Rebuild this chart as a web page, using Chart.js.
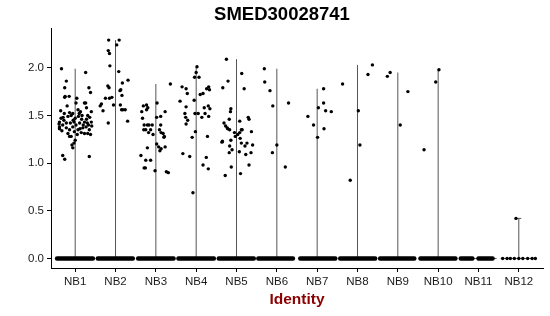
<!DOCTYPE html>
<html>
<head>
<meta charset="utf-8">
<script src="https://cdn.jsdelivr.net/npm/chart.js@4/dist/chart.umd.min.js"></script>
<style>
  html, body { margin: 0; padding: 0; background: #fff; }
  #wrap { width: 550px; height: 316px; }
</style>
</head>
<body>
<div id="wrap"><canvas id="vln"></canvas></div>
<script>
const categories = ["NB1", "NB2", "NB3", "NB4", "NB5", "NB6", "NB7", "NB8", "NB9", "NB10", "NB11", "NB12"];
const yTicks = [0, 0.5, 1, 1.5, 2];
// max expression per identity (top of each violin)
const violinTop = [1.99, 2.29, 1.83, 2.01, 2.09, 1.99, 1.78, 2.03, 1.95, 1.98, 0, 0.42];
// cells at zero: [from, to] jitter ranges per identity
const zeroBands = [
  [[-0.45, 0.44]], [[-0.44, 0.43]], [[-0.44, 0.44]], [[-0.44, 0.44]], [[-0.44, 0.43]],
  [[-0.46, 0.40]], [[-0.42, 0.45]], [[-0.43, 0.44]], [[-0.44, 0.41]], [[-0.44, 0.43]],
  [[-0.44, -0.15], [0.0, 0.35]], []
];
const nb12Zeros = [-0.40, -0.29, -0.21, -0.11, 0.0, 0.10, 0.22, 0.33, 0.41];

// expressing cells: [jitter, value]
const nb1 = [[-0.25,1.70],[-0.15,1.70],[0.38,1.74],[-0.20,1.60],[0.02,1.63],[0.23,1.63],[0.28,1.58],
  [-0.27,1.52],[-0.14,1.53],[-0.06,1.52],[0.07,1.56],[0.13,1.54],[0.31,1.50],[-0.39,1.43],[-0.35,1.47],
  [-0.28,1.45],[-0.18,1.49],[-0.12,1.42],[-0.03,1.43],[0.00,1.47],[0.08,1.49],[0.16,1.46],[0.23,1.43],
  [0.30,1.42],[0.36,1.48],[0.40,1.43],[-0.39,1.38],[-0.31,1.40],[-0.22,1.37],[-0.14,1.35],[-0.06,1.38],
  [0.02,1.40],[0.11,1.42],[0.19,1.37],[0.27,1.38],[0.35,1.35],[0.41,1.39],[-0.18,1.31],[-0.02,1.33],
  [0.07,1.35],[0.15,1.32],[0.23,1.31],[0.31,1.31],[-0.10,1.28],[0.00,1.24],[-0.08,1.19],[-0.03,1.21],
  [-0.14,1.28],[-0.34,1.99],[-0.22,1.86],[-0.26,1.79],[-0.26,1.69],[0.26,1.95],[0.34,1.79],[-0.31,1.08],
  [-0.26,1.04],[0.35,1.07],[-0.06,1.16],[0.38,1.30],[0.40,1.54],[-0.36,1.55],[-0.40,1.41],[-0.39,1.36],
  [0.26,1.63],[0.04,1.68],[-0.33,1.34],[-0.05,1.45],[0.12,1.36],[0.20,1.40],[0.05,1.30],[-0.22,1.42],
  [0.28,1.46],[0.10,1.52],[-0.10,1.50],[0.17,1.50],[-0.30,1.48],[0.33,1.40]];
const nb2 = [[-0.17,2.29],[0.09,2.29],[0.03,2.24],[-0.18,2.18],[-0.15,2.15],[-0.14,2.02],[0.08,1.96],
  [0.31,1.87],[0.17,1.84],[-0.19,1.81],[-0.16,1.79],[0.13,1.77],[0.11,1.76],[0.16,1.71],[-0.09,1.69],
  [-0.15,1.68],[-0.25,1.68],[-0.35,1.62],[-0.38,1.60],[-0.05,1.61],[0.12,1.61],[-0.31,1.55],[0.15,1.56],
  [0.24,1.56],[0.18,1.56],[0.30,1.44],[-0.18,1.42]];
const nb3 = [[0.36,1.83],[-0.23,1.61],[-0.31,1.60],[-0.20,1.58],[-0.35,1.54],[-0.23,1.56],[0.03,1.63],
  [0.23,1.54],[0.12,1.49],[0.02,1.48],[-0.33,1.47],[-0.29,1.40],[-0.21,1.40],[-0.17,1.40],[-0.09,1.40],
  [-0.30,1.35],[-0.25,1.35],[-0.13,1.35],[-0.18,1.32],[0.12,1.40],[0.09,1.35],[0.18,1.31],[0.20,1.27],
  [0.13,1.32],[0.21,1.28],[-0.07,1.30],[0.02,1.20],[0.07,1.17],[-0.21,1.16],[0.13,1.15],[0.10,1.13],
  [0.23,1.17],[-0.37,1.08],[-0.25,1.03],[-0.26,0.95],[-0.29,0.95],[-0.13,1.03],[-0.02,0.92],[0.26,0.91],
  [0.31,0.90]];
const nb4 = [[0.02,2.01],[0.00,1.95],[0.07,1.90],[-0.04,1.90],[-0.35,1.80],[-0.25,1.78],[0.31,1.80],
  [0.26,1.78],[0.33,1.77],[0.17,1.73],[0.10,1.72],[-0.22,1.73],[-0.40,1.65],[-0.05,1.66],[0.30,1.60],
  [0.34,1.57],[0.20,1.58],[-0.25,1.59],[-0.28,1.52],[-0.26,1.48],[-0.21,1.45],[-0.03,1.52],[0.05,1.52],
  [0.14,1.48],[0.22,1.52],[0.31,1.49],[-0.02,1.33],[-0.10,1.27],[0.28,1.28],[-0.33,1.10],[-0.16,1.07],
  [0.25,1.06],[0.17,0.98],[0.30,0.94],[-0.08,0.69],[-0.25,1.41]];
const nb5 = [[-0.25,2.09],[-0.21,1.86],[-0.34,1.79],[0.13,1.94],[0.19,1.78],[-0.14,1.57],[-0.15,1.54],
  [-0.18,1.46],[-0.31,1.42],[-0.27,1.39],[-0.23,1.37],[-0.22,1.36],[-0.17,1.35],[0.08,1.44],[0.29,1.48],
  [0.31,1.46],[0.12,1.35],[0.08,1.32],[-0.05,1.32],[0.03,1.30],[-0.36,1.22],[-0.35,1.23],[-0.14,1.24],
  [-0.03,1.28],[0.09,1.26],[0.12,1.21],[0.21,1.18],[0.26,1.21],[0.40,1.19],[-0.17,1.18],[-0.11,1.14],
  [-0.18,1.11],[0.07,1.12],[0.23,1.09],[-0.13,0.96],[0.31,0.98],[0.10,0.89],[-0.28,0.87],[0.36,1.11],
  [0.37,1.33],[0.14,1.35]];
const nb6 = [[-0.31,1.99],[-0.30,1.85],[-0.17,1.76],[-0.10,1.60],[0.00,1.19],[-0.11,1.11],[0.29,1.63],[0.21,0.96]];
const nb7 = [[-0.23,1.49],[-0.09,1.40],[0.01,1.27],[0.03,1.58],[0.16,1.78],[0.16,1.63],[0.21,1.55],[0.35,1.54],[0.17,1.36]];
const nb8 = [[-0.37,1.83],[-0.18,0.82],[0.02,1.55],[0.06,1.19],[0.26,1.93],[0.37,2.03]];
const nb9 = [[-0.26,1.91],[-0.19,1.95],[0.06,1.40],[0.25,1.75]];
const nb10 = [[-0.35,1.14],[-0.06,1.85],[0.02,1.98]];
const nb11 = [];
const nb12 = [[-0.07,0.42]];
const groups = [nb1, nb2, nb3, nb4, nb5, nb6, nb7, nb8, nb9, nb10, nb11, nb12];

const cellPoints = [];
groups.forEach((g, i) => g.forEach(p => cellPoints.push({ x: i + 1 + p[0], y: p[1] })));
nb12Zeros.forEach(j => cellPoints.push({ x: 12 + j, y: 0 }));

const datasets = [{
  type: "scatter",
  data: cellPoints,
  pointRadius: 1.7,
  pointBackgroundColor: "#000",
  pointBorderWidth: 0,
  order: 0,
}];

zeroBands.forEach((bands, i) => {
  bands.forEach(b => {
    datasets.push({
      type: "line",
      data: [{ x: i + 1 + b[0], y: 0 }, { x: i + 1 + b[1], y: 0 }],
      borderColor: "#000",
      borderWidth: 4.4,
      borderCapStyle: "round",
      pointRadius: 0,
      order: 1,
    });
  });
});

violinTop.forEach((top, i) => {
  const c = i + 1;
  datasets.push({
    type: "line",
    data: [{ x: c - 0.45, y: 0 }, { x: c + 0.45, y: 0 }],
    borderColor: "#555",
    borderWidth: 1,
    pointRadius: 0,
    order: 2,
  });
  if (top > 0) {
    datasets.push({
      type: "line",
      data: [{ x: c, y: 0 }, { x: c, y: top }],
      borderColor: "#555",
      borderWidth: 1,
      pointRadius: 0,
      order: 2,
    });
  }
});
// tiny cap on the NB12 violin
datasets.push({
  type: "line",
  data: [{ x: 12 - 0.08, y: violinTop[11] }, { x: 12.06, y: violinTop[11] }],
  borderColor: "#555",
  borderWidth: 1,
  pointRadius: 0,
  order: 2,
});

const config = {
  type: "scatter",
  data: { datasets: datasets },
  options: {
    responsive: true,
    maintainAspectRatio: false,
    animation: false,
    layout: { padding: { left: 21, right: 7, top: 0, bottom: 0 } },
    plugins: {
      legend: { display: false },
      tooltip: { enabled: false },
      title: {
        display: true,
        text: "SMED30028741",
        color: "#000",
        font: { family: "Liberation Sans", size: 18.5, weight: "bold" },
        padding: { top: 4, bottom: 2 },
      },
    },
    scales: {
      x: {
        type: "linear",
        min: 0.4,
        max: 12.6,
        afterBuildTicks: (scale) => { scale.ticks = categories.map((c, i) => ({ value: i + 1 })); },
        afterFit: (scale) => { scale.height = 48; },
        ticks: {
          autoSkip: false,
          maxRotation: 0,
          padding: 3,
          color: "#1a1a1a",
          font: { family: "Liberation Sans", size: 11.5 },
          callback: (v) => categories[Math.round(v) - 1],
        },
        grid: { drawOnChartArea: false, drawTicks: true, tickLength: 4, color: "#000" },
        border: { display: true, color: "#000", width: 1 },
        title: {
          display: true,
          text: "Identity",
          color: "#8b0000",
          font: { family: "Liberation Sans", size: 15.5, weight: "bold" },
          padding: { top: 0, bottom: 7 },
        },
      },
      y: {
        type: "linear",
        min: -0.1,
        max: 2.415,
        afterBuildTicks: (scale) => { scale.ticks = yTicks.map(v => ({ value: v })); },
        afterFit: (scale) => { scale.width = 30; },
        ticks: {
          padding: 3,
          color: "#1a1a1a",
          font: { family: "Liberation Sans", size: 11.5 },
          callback: (v) => v.toFixed(1),
        },
        grid: { drawOnChartArea: false, drawTicks: true, tickLength: 4, color: "#000" },
        border: { display: true, color: "#000", width: 1 },
      },
    },
  },
};

const ctx_vln = document.getElementById("vln").getContext("2d");
const vlnChart = new Chart(ctx_vln, config);
</script>
</body>
</html>
